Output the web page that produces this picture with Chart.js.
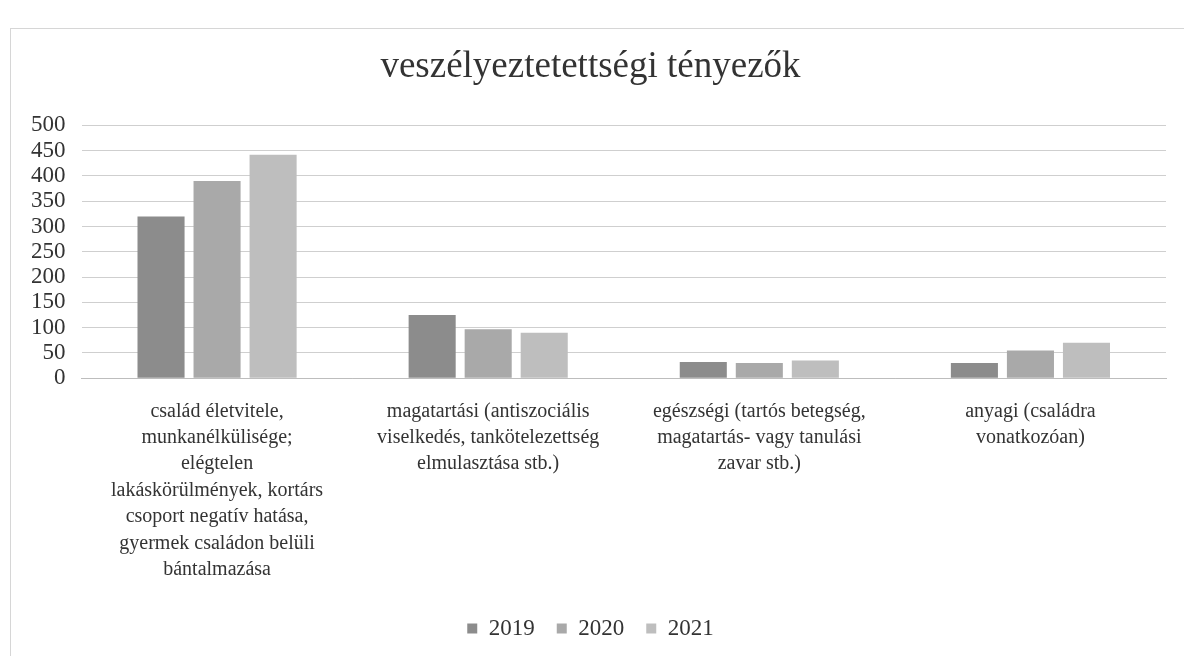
<!DOCTYPE html>
<html lang="hu">
<head>
<meta charset="utf-8">
<script src="https://cdn.jsdelivr.net/npm/chart.js@4/dist/chart.umd.min.js"></script>
<style>
  html, body { margin: 0; padding: 0; background: #fff; }
  #wrap { position: absolute; left: 10px; top: 28px; width: 1174px; height: 628px; border: 1px solid #d6d6d6; border-right: none; border-bottom: none; box-sizing: border-box; }
  canvas { position: absolute; left: 0; top: 0; }
</style>
</head>
<body>
<div id="wrap"><canvas id="chart" width="1173" height="627"></canvas></div>
<script>
// kategóriák (több soros címkék)
const categories = [
  ["család életvitele,", "munkanélkülisége;", "elégtelen", "lakáskörülmények, kortárs", "csoport negatív hatása,", "gyermek családon belüli", "bántalmazása"],
  ["magatartási (antiszociális", "viselkedés, tankötelezettség", "elmulasztása stb.)"],
  ["egészségi (tartós betegség,", "magatartás- vagy tanulási", "zavar stb.)"],
  ["anyagi (családra", "vonatkozóan)"]
];
const years = ["2019", "2020", "2021"];
const values2019 = [320, 125, 32, 30];
const values2020 = [390, 97, 30, 55];
const values2021 = [442, 90, 35, 70];
const yTicks = [0, 50, 100, 150, 200, 250, 300, 350, 400, 450, 500];

const colors = ["#8c8c8c", "#a9a9a9", "#bebebe"];
const serif = "'Liberation Serif', 'DejaVu Serif', serif";

document.addEventListener("DOMContentLoaded", function () {
  const ctx = document.getElementById("chart").getContext("2d");
  new Chart(ctx, {
    type: "bar",
    data: {
      labels: categories,
      datasets: [values2019, values2020, values2021].map((d, i) => ({
        label: years[i],
        data: d,
        backgroundColor: colors[i],
        borderWidth: 0,
        categoryPercentage: 0.62,
        barPercentage: 0.84
      }))
    },
    options: {
      responsive: false,
      animation: false,
      layout: { padding: { left: 4, right: 18, top: 6, bottom: 6 } },
      plugins: {
        title: {
          display: true,
          text: "veszélyeztetettségi tényezők",
          color: "#333",
          font: { family: serif, size: 37, weight: "normal" },
          padding: { top: 10, bottom: 36 }
        },
        legend: {
          position: "bottom",
          labels: {
            color: "#333",
            font: { family: serif, size: 23 },
            boxWidth: 10,
            boxHeight: 10,
            padding: 22
          }
        },
        tooltip: { enabled: false }
      },
      scales: {
        x: {
          grid: { display: false },
          border: { color: "#bdbdbd" },
          ticks: {
            color: "#333",
            font: { family: serif, size: 20, lineHeight: 1.32 },
            maxRotation: 0,
            autoSkip: false,
            padding: 12
          }
        },
        y: {
          min: 0,
          max: 500,
          afterBuildTicks: (axis) => { axis.ticks = yTicks.map((v) => ({ value: v })); },
          grid: { color: "#cfcfcf", drawTicks: false },
          border: { display: false },
          ticks: {
            color: "#333",
            autoSkip: false,
            font: { family: serif, size: 23 },
            padding: 16
          }
        }
      }
    }
  });
});
</script>
</body>
</html>
